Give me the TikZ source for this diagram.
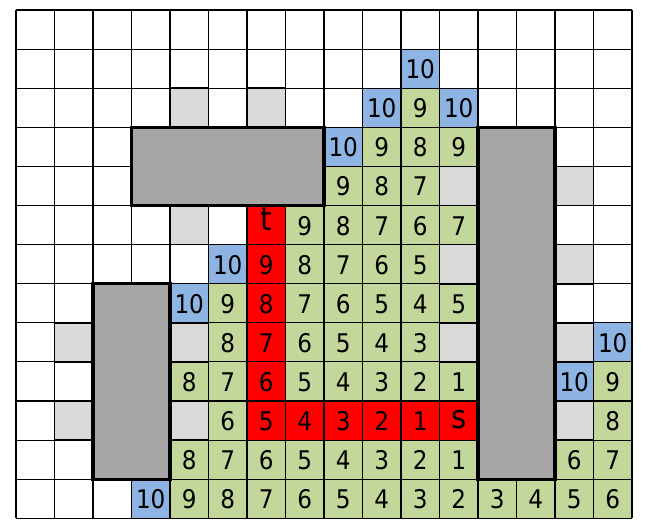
\documentclass[tikz,border=0pt]{standalone}
\usepackage{fontspec}
\setmainfont{DejaVu Sans Condensed}
\usepackage{xcolor}
\usepackage{tikz}
\definecolor{cellgreen}{HTML}{C4D79B}
\definecolor{cellblue}{HTML}{8DB4E2}
\definecolor{cellred}{HTML}{FF0000}
\definecolor{celllight}{HTML}{D9D9D9}
\definecolor{blockgray}{HTML}{A6A6A6}
\tikzset{
  num/.style={anchor=base,inner sep=0pt,font=\fontsize{19}{19}\selectfont},
  endpt/.style={num,font=\fontsize{24}{24}\selectfont},
  block/.style={fill=blockgray,draw=black,line width=2.4pt}
}
\begin{document}
\begin{tikzpicture}[x=1cm,y=-1.0156cm]
  \useasboundingbox (-0.4156,-0.256) rectangle (16.442,13.281);
  \foreach \c/\r in {10/2,9/3,10/3,11/3,8/4,9/4,10/4,7/5,8/5,9/5,10/5,11/5,
      7/6,8/6,9/6,10/6,5/7,7/7,8/7,9/7,10/7,11/7,5/8,7/8,8/8,9/8,10/8,
      4/9,5/9,7/9,8/9,9/9,10/9,11/9,15/9,5/10,15/10,
      4/11,5/11,6/11,7/11,8/11,9/11,10/11,11/11,14/11,15/11,
      4/12,5/12,6/12,7/12,8/12,9/12,10/12,11/12,12/12,13/12,14/12,15/12}
    \fill[cellgreen] (\c,\r) rectangle ++(1,1);
  \foreach \c/\r in {10/1,9/2,11/2,8/3,5/6,4/7,15/8,14/9,3/12}
    \fill[cellblue] (\c,\r) rectangle ++(1,1);
  \foreach \c/\r in {6/5,6/6,6/7,6/8,6/9,6/10,7/10,8/10,9/10,10/10,11/10}
    \fill[cellred] (\c,\r) rectangle ++(1,1);
  \foreach \r in {0,...,13}
    \draw[line width=0.8pt] (0,\r) -- (16,\r);
  \foreach \c in {0,...,16}
    \draw[line width=0.8pt] (\c,0) -- (\c,13);
  \foreach \c/\r in {4/2,6/2,11/4,14/4,4/5,11/6,14/6,1/8,4/8,11/8,14/8,1/10,4/10,14/10}
    \draw[fill=celllight,line width=1.3pt] (\c,\r) rectangle ++(1,1);
  \node[endpt] (target) at (6.5,5.63) {t};
  \draw[block] (3,3) rectangle (8,5);
  \draw[block] (2,7) rectangle (4,12);
  \draw[block] (12,3) rectangle (14,12);
  \foreach \c/\r/\v in {10/2/9,9/3/9,10/3/8,11/3/9,8/4/9,9/4/8,10/4/7,
      7/5/9,8/5/8,9/5/7,10/5/6,11/5/7,6/6/9,7/6/8,8/6/7,9/6/6,10/6/5,
      5/7/9,6/7/8,7/7/7,8/7/6,9/7/5,10/7/4,11/7/5,
      5/8/8,6/8/7,7/8/6,8/8/5,9/8/4,10/8/3,
      4/9/8,5/9/7,6/9/6,7/9/5,8/9/4,9/9/3,10/9/2,11/9/1,15/9/9,
      5/10/6,6/10/5,7/10/4,8/10/3,9/10/2,10/10/1,15/10/8,
      4/11/8,5/11/7,6/11/6,7/11/5,8/11/4,9/11/3,10/11/2,11/11/1,14/11/6,15/11/7,
      4/12/9,5/12/8,6/12/7,7/12/6,8/12/5,9/12/4,10/12/3,11/12/2,
      12/12/3,13/12/4,14/12/5,15/12/6}
    \node[num] (n\c-\r) at (\c+0.5,\r+0.756) {\v};
  \foreach \c/\r in {10/1,9/2,11/2,8/3,5/6,4/7,15/8,14/9,3/12}
    \node[num] (n\c-\r) at (\c+0.5,\r+0.756) {10};
  \node[endpt] (source) at (11.5,10.7) {s};
\end{tikzpicture}
\end{document}
